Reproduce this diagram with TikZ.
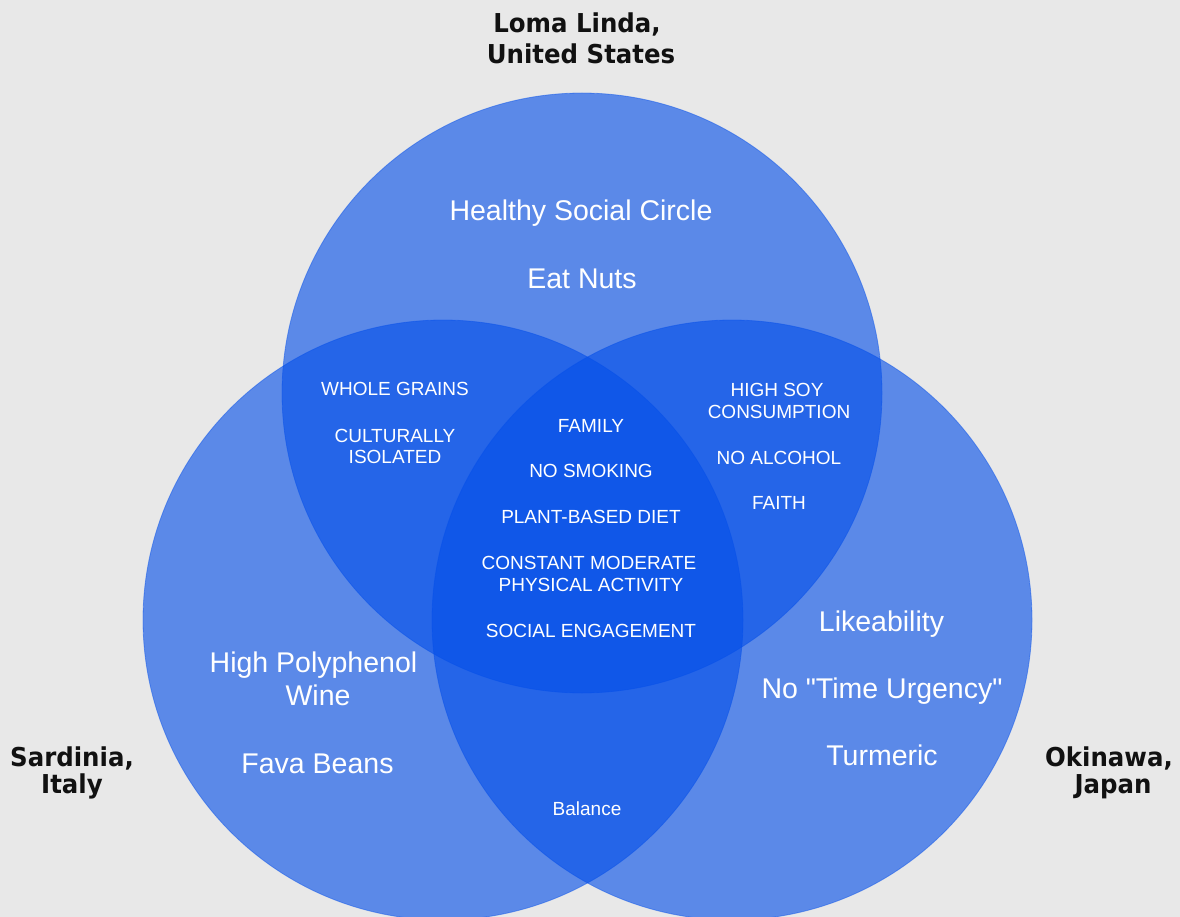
\documentclass[tikz,border=0pt]{standalone}
\usepackage{fontspec}
\setmainfont{Liberation Sans}[Ligatures=TeXOff]
\newfontfamily\labelfont[FakeStretch=0.94]{DejaVu Sans Bold}
\definecolor{bg}{RGB}{232,232,232}
\definecolor{vennblue}{RGB}{4,79,232}
\definecolor{labelink}{RGB}{17,17,17}
\begin{document}
\begin{tikzpicture}[x=1pt,y=-1pt,
  venn/.style={fill=vennblue, fill opacity=0.614, draw=vennblue, draw opacity=0.45, line width=0.8pt},
  big/.style={text=white, font=\fontsize{28.5}{34}\selectfont, anchor=base, inner sep=0pt},
  small/.style={text=white, font=\fontsize{19}{23}\selectfont, anchor=base, inner sep=0pt},
  place/.style={text=labelink, font=\labelfont\fontsize{26}{31}\selectfont, anchor=base, inner sep=0pt}]
\fill[bg] (0,0) rectangle (1180,917);
\useasboundingbox (0,0) rectangle (1180,917);
\begin{scope}
  \clip (0,0) rectangle (1180,917);
  \path[venn] (582,393) circle[radius=300pt];
  \path[venn] (443,620) circle[radius=300pt];
  \path[venn] (732,620) circle[radius=300pt];
\end{scope}
% place labels
\node[place] (loma1) at (577,33) {Loma Linda,};
\node[place] (loma2) at (581,64) {United States};
\node[place] (sard1) at (72,766) {Sardinia,};
\node[place] (sard2) at (72,793) {Italy};
\node[place] (oki1) at (1109,766) {Okinawa,};
\node[place] (oki2) at (1113,793) {Japan};
% Loma Linda only
\node[big] (t1) at (581,221) {Healthy Social Circle};
\node[big] (t2) at (582,288) {Eat Nuts};
% Sardinia only
\node[big] (l1) at (313.5,672) {High Polyphenol};
\node[big] (l2) at (318,705) {Wine};
\node[big] (l3) at (317.5,773) {Fava Beans};
% Okinawa only
\node[big] (r1) at (881.5,631) {Likeability};
\node[big] (r2) at (882,698) {No "Time Urgency"};
\node[big] (r3) at (882,765) {Turmeric};
% Loma Linda & Sardinia
\node[small] (tl1) at (395,395) {WHOLE GRAINS};
\node[small] (tl2) at (395,442) {CULTURALLY};
\node[small] (tl3) at (395,463) {ISOLATED};
% Loma Linda & Okinawa
\node[small] (tr1) at (777,396) {HIGH SOY};
\node[small] (tr2) at (779,418) {CONSUMPTION};
\node[small] (tr3) at (779,464) {NO ALCOHOL};
\node[small] (tr4) at (779,509) {FAITH};
% all three
\node[small] (c1) at (591,432) {FAMILY};
\node[small] (c2) at (591,477) {NO SMOKING};
\node[small] (c3) at (591,523) {PLANT-BASED DIET};
\node[small] (c4) at (589,569) {CONSTANT MODERATE};
\node[small] (c5) at (591,591) {PHYSICAL ACTIVITY};
\node[small] (c6) at (591,637) {SOCIAL ENGAGEMENT};
% Sardinia & Okinawa
\node[small] (b1) at (587,815) {Balance};
\end{tikzpicture}
\end{document}
